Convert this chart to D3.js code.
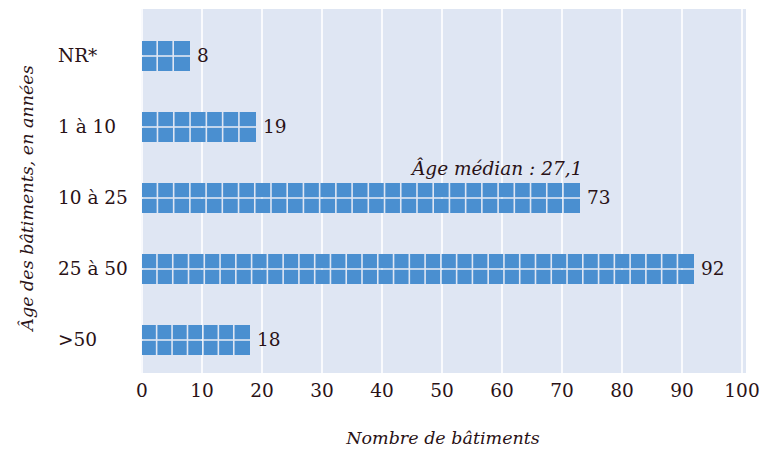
<!DOCTYPE html>
<html>
<head>
<meta charset="utf-8">
<script src="https://cdn.jsdelivr.net/npm/d3@7"></script>
<style>
  html, body { margin: 0; padding: 0; background: #ffffff; }
  svg { display: block; }
  text { font-family: "DejaVu Serif", "Liberation Serif", serif; fill: #2a1216; }
</style>
</head>
<body>
<svg id="chart" width="760" height="449"></svg>
<script>
// Building age classes and building counts
const categories = ["NR*", "1 à 10", "10 à 25", "25 à 50", ">50"];
const counts = [8, 19, 73, 92, 18];
const xTicks = [0, 10, 20, 30, 40, 50, 60, 70, 80, 90, 100];
const medianLabel = "Âge médian : 27,1";
const medianRow = "10 à 25";
const xTitle = "Nombre de bâtiments";
const yTitle = "Âge des bâtiments, en années";

const svg = d3.select("#chart");
const plot = { left: 141, right: 746, top: 9, bottom: 373 };

const x = d3.scaleLinear().domain([0, 100]).range([142, 742]);
const y = d3.scalePoint().domain(categories).range([56, 340]);

const barH = 30;     // two rows of cells
const cellTarget = 16;
const gap = 1.6;
const fs = 18.5;

// background
svg.append("rect")
  .attr("x", plot.left).attr("y", plot.top)
  .attr("width", plot.right - plot.left).attr("height", plot.bottom - plot.top)
  .attr("fill", "#dfe6f3");

// vertical grid lines
svg.append("g").selectAll("line").data(xTicks).join("line")
  .attr("x1", d => x(d)).attr("x2", d => x(d))
  .attr("y1", plot.top).attr("y2", plot.bottom)
  .attr("stroke", "#ffffff").attr("stroke-width", 1.6);

// bars drawn as grids of square cells
const bars = svg.append("g");
categories.forEach((c, i) => {
  const v = counts[i];
  const w = x(v) - x(0);
  const n = Math.max(1, Math.round(w / cellTarget));
  const cw = w / n;
  const top = y(c) - barH / 2;
  const rowH = barH / 2;
  for (let r = 0; r < 2; r++) {
    for (let k = 0; k < n; k++) {
      bars.append("rect")
        .attr("x", x(0) + k * cw)
        .attr("y", top + r * rowH + (r === 1 ? gap / 2 : 0))
        .attr("width", cw - (k < n - 1 ? gap : 0))
        .attr("height", rowH - gap / 2)
        .attr("fill", "#4a8fd0");
    }
  }
  svg.append("text")
    .attr("x", x(v) + 7).attr("y", y(c))
    .attr("dy", "0.35em")
    .attr("font-size", fs)
    .text(v);
});

// category labels
svg.append("g").selectAll("text").data(categories).join("text")
  .attr("x", 58).attr("y", d => y(d)).attr("dy", "0.35em")
  .attr("font-size", fs)
  .text(d => d);

// x tick labels
svg.append("g").selectAll("text").data(xTicks).join("text")
  .attr("x", d => x(d)).attr("y", 391).attr("dy", "0.35em")
  .attr("text-anchor", "middle")
  .attr("font-size", fs)
  .text(d => d);

// median annotation
svg.append("text")
  .attr("x", x(45)).attr("y", y(medianRow) - 29)
  .attr("dy", "0.35em")
  .attr("font-size", 18.5).attr("font-style", "italic")
  .text(medianLabel);

// axis titles
svg.append("text")
  .attr("x", 443).attr("y", 438).attr("dy", "0.35em")
  .attr("text-anchor", "middle")
  .attr("font-size", 17.5).attr("font-style", "italic")
  .text(xTitle);

svg.append("text")
  .attr("transform", "translate(27,198) rotate(-90)")
  .attr("dy", "0.35em")
  .attr("text-anchor", "middle")
  .attr("font-size", 17.5).attr("font-style", "italic")
  .text(yTitle);
</script>
</body>
</html>
